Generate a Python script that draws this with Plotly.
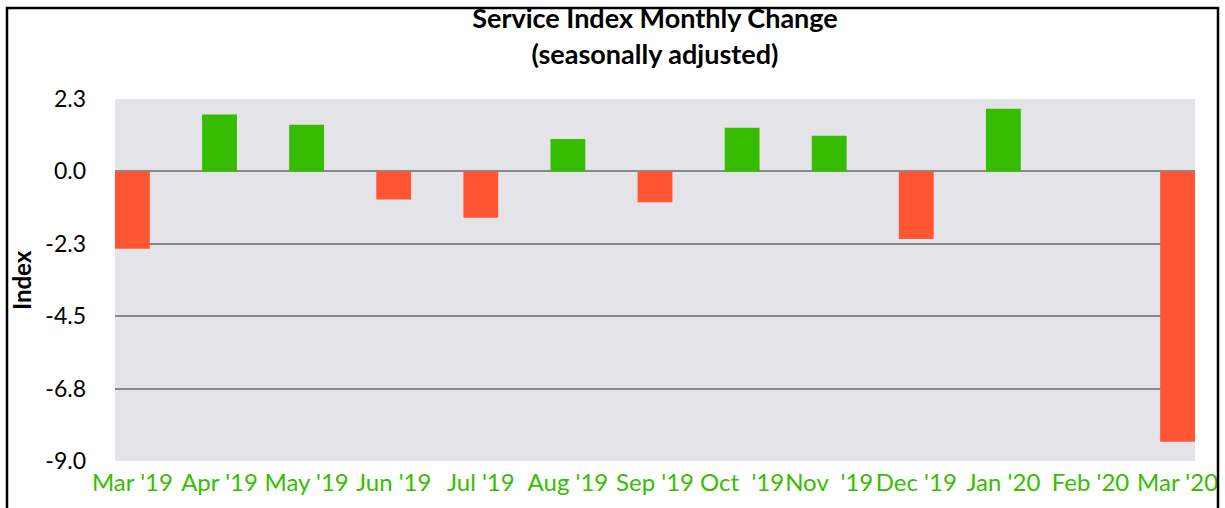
import plotly.graph_objects as go

months = ["Mar '19", "Apr '19", "May '19", "Jun '19", "Jul '19", "Aug '19", "Sep '19",
          "Oct  '19", "Nov  '19", "Dec '19", "Jan '20", "Feb '20", "Mar '20"]
change = [-2.4, 1.77, 1.45, -0.87, -1.44, 1.01, -0.96, 1.36, 1.11, -2.1, 1.95, None, -8.4]
y_ticks = [2.25, 0.0, -2.25, -4.5, -6.75, -9.0]
y_tick_labels = ["2.3", "0.0", "-2.3", "-4.5", "-6.8", "-9.0"]

GREEN = "#36bd00"
RED = "#ff5533"
colors = [GREEN if (v is not None and v >= 0) else RED for v in change]

W, H = 1225, 508
L, R, T, B = 115, 30, 99, 47
pw, ph = W - L - R, H - T - B

fig = go.Figure(go.Bar(
    x=months, y=change, width=0.4,
    marker=dict(color=colors, line=dict(width=0)),
))

fig.update_layout(
    width=W, height=H,
    margin=dict(l=L, r=R, t=T, b=B, pad=0, autoexpand=False),
    paper_bgcolor="white",
    plot_bgcolor="#e4e3e8",
    showlegend=False,
    font=dict(family="Lato", color="black"),
    title=dict(
        text="<b>Service Index Monthly Change<br>(seasonally adjusted)</b>",
        font=dict(family="Lato", size=27, color="black"),
        x=0.5, xref="paper", xanchor="center",
        y=0.944, yref="container", yanchor="top",
        automargin=False,
    ),
    xaxis=dict(
        type="category", range=[-0.2, 12.2], automargin=False,
        showgrid=False, zeroline=False, showline=False,
        tickfont=dict(family="Lato", size=24, color=GREEN),
        ticks="", tickangle=0, ticklabelstandoff=5,
    ),
    yaxis=dict(
        range=[-9.0, 2.25], tickmode="array", tickvals=y_ticks, ticktext=y_tick_labels,
        automargin=False,
        showgrid=True, gridcolor="#888888", gridwidth=2,
        zeroline=True, zerolinecolor="#888888", zerolinewidth=2,
        showline=False, ticks="", ticklabelstandoff=28,
        tickfont=dict(family="Lato", size=23, color="black"),
    ),
    annotations=[dict(
        text="<b>Index</b>", textangle=-90, showarrow=False,
        xref="paper", yref="paper", x=(21 - L) / pw, y=0.5,
        xanchor="center", yanchor="middle",
        font=dict(family="Lato", size=24, color="black"),
    )],
    shapes=[dict(
        type="rect", xref="paper", yref="paper", layer="above",
        x0=(7 - L) / pw, x1=(1218 - L) / pw,
        y0=(H - T - 560) / ph, y1=(H - B - 8) / ph,
        line=dict(color="black", width=2.5), fillcolor="rgba(0,0,0,0)",
    )],
)

fig.write_html("out.html", config={"displayModeBar": False},
               post_script="document.body.style.margin='0px';")
